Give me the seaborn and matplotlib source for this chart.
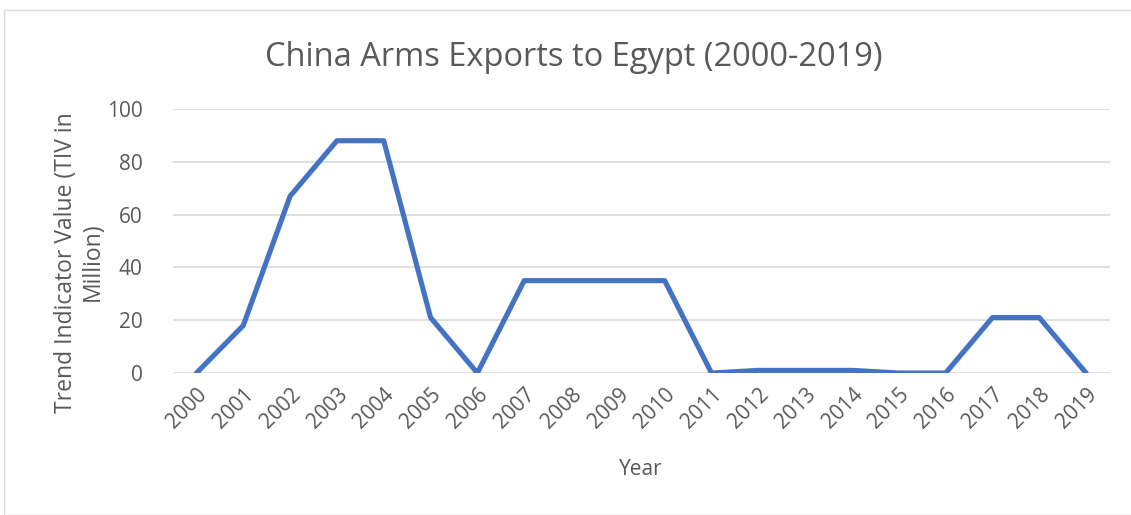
import matplotlib
matplotlib.use("Agg")
import matplotlib.pyplot as plt
import seaborn as sns
import pandas as pd
from matplotlib.patches import Rectangle

years = [str(y) for y in range(2000, 2020)]
tiv = [0, 18, 67, 88, 88, 21, 0, 35, 35, 35, 35, 0, 1, 1, 1, 0, 0, 21, 21, 0]
yticks = [0, 20, 40, 60, 80, 100]

sns.set_theme(style="white")
plt.rcParams["font.family"] = ["Open Sans", "DejaVu Sans"]
text_color = "#595959"

df = pd.DataFrame({"Year": years, "TIV": tiv})

fig = plt.figure(figsize=(11.31, 5.15), dpi=100)
ax = fig.add_axes([0.153, 0.2757, 0.828, 0.5126])

sns.lineplot(data=df, x="Year", y="TIV", ax=ax, color="#4472C4",
             linewidth=3.7, sort=False)

ax.set_xlim(-0.5, len(years) - 0.5)
ax.set_ylim(0, 100)
ax.set_yticks(yticks)
ax.set_yticklabels([str(t) for t in yticks], fontsize=15, color=text_color)
ax.set_xticks(range(len(years)))
ax.set_xticklabels(years, rotation=45, ha="right", rotation_mode="anchor",
                   fontsize=15, color=text_color)
ax.tick_params(axis="x", pad=8, length=0)
ax.tick_params(axis="y", pad=22, length=0)
ax.yaxis.grid(True, color="#D9D9D9", linewidth=1.2)
ax.set_axisbelow(True)
for s in ax.spines.values():
    s.set_visible(False)

ax.set_xlabel("Year", fontsize=15, color=text_color)
ax.xaxis.set_label_coords(0.5, -0.325)
ax.set_ylabel("Trend Indicator Value (TIV in\nMillion)", fontsize=16.5,
              color=text_color, linespacing=1.15)
ax.yaxis.set_label_coords(-0.073, 0.42)
fig.text(0.507, 0.889, "China Arms Exports to Egypt (2000-2019)", ha="center",
         va="center", fontsize=23.5, color=text_color)

fig.patches.append(Rectangle((4 / 1131, 0.0), 1.2, 1 - 10 / 515,
                             transform=fig.transFigure, fill=False,
                             edgecolor="#D9D9D9", linewidth=1.0))

fig.savefig("out.png", dpi=100, facecolor="white")
